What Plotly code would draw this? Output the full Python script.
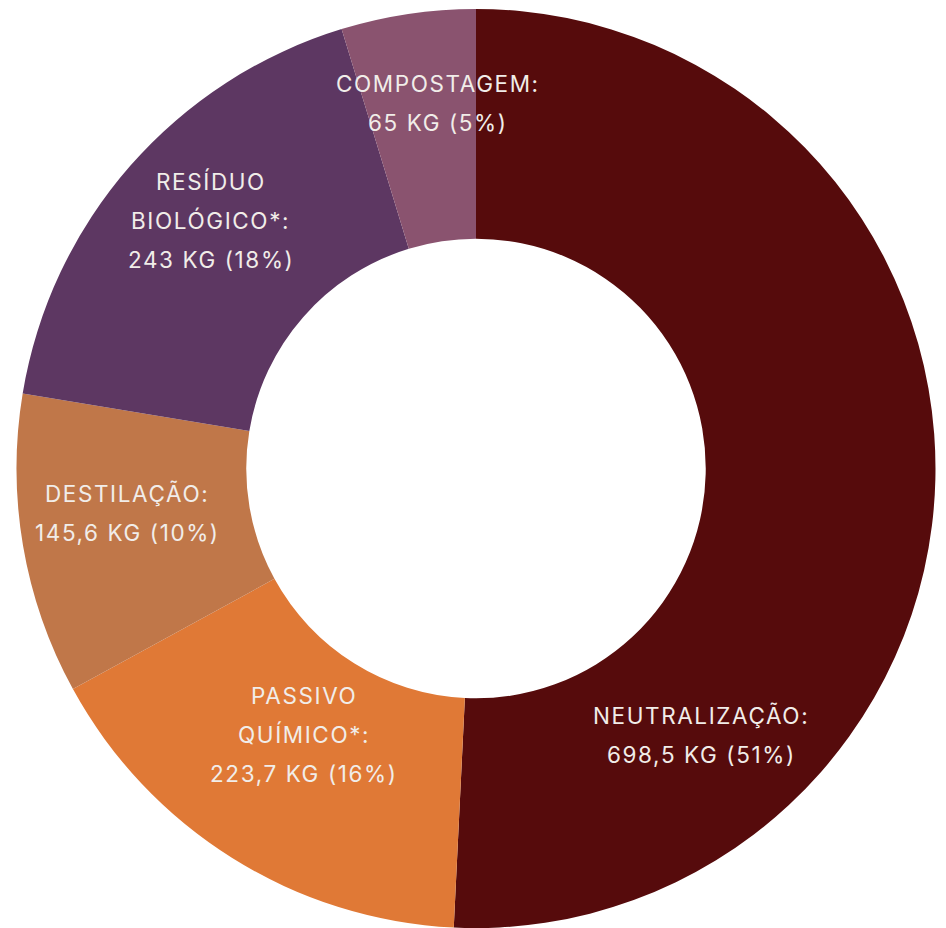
import math
import plotly.graph_objects as go

# ---- data ----
categories = ["NEUTRALIZAÇÃO:", "PASSIVO QUÍMICO*:", "DESTILAÇÃO:", "RESÍDUO BIOLÓGICO*:", "COMPOSTAGEM:"]
label_lines = [
    ["NEUTRALIZAÇÃO:"],
    ["PASSIVO", "QUÍMICO*:"],
    ["DESTILAÇÃO:"],
    ["RESÍDUO", "BIOLÓGICO*:"],
    ["COMPOSTAGEM:"],
]
values_kg = [698.5, 223.7, 145.6, 243, 65]
value_text = ["698,5 KG", "223,7 KG", "145,6 KG", "243 KG", "65 KG"]
percent_text = ["51%", "16%", "10%", "18%", "5%"]

# ---- style ----
colors = ["#560b0c", "#e07936", "#c07749", "#5d3762", "#8a536f"]
text_color = "#f1ede9"
font_family = "Inter"
font_size = 22.5
letter_spacing = "1.6px"
line_gap = 39
# label placement: (angle offset from slice mid in degrees, radius fraction)
label_place = [(48.4, 0.76), (0.9, 0.69), (2.3, 0.765), (1.9, 0.79), (2.6, 0.80)]

# page body has an 8px margin; compensate so the chart fills the window
BODY = 8
W, H = 946 - BODY, 928 - BODY
ML, MR, MT, MB = 8, 10, 1, 0
pw, ph = W - ML - MR, H - MT - MB
R = min(pw, ph) / 2

fig = go.Figure(go.Pie(
    labels=categories,
    values=values_kg,
    hole=0.5,
    sort=False,
    direction="clockwise",
    rotation=0,
    textinfo="none",
    marker=dict(colors=colors, line=dict(width=0)),
    showlegend=False,
))

total = sum(values_kg)
cum = 0.0
annotations = []
for i, v in enumerate(values_kg):
    mid = (cum + v / 2) / total * 360.0
    cum += v
    off, rf = label_place[i]
    ang = math.radians(mid + off)
    dx = math.sin(ang) * R * rf
    dy = -math.cos(ang) * R * rf  # pixels, downward positive
    lines = label_lines[i] + [f"{value_text[i]} ({percent_text[i]})"]
    n = len(lines)
    for j, t in enumerate(lines):
        yoff = (j - (n - 1) / 2) * line_gap
        annotations.append(dict(
            x=0.5 + dx / pw, y=0.5 - (dy + yoff) / ph,
            xref="paper", yref="paper",
            text=f"<span style='letter-spacing:{letter_spacing}'>{t}</span>",
            showarrow=False,
            xanchor="center", yanchor="middle",
            font=dict(family=font_family, size=font_size, color=text_color),
        ))

fig.update_layout(
    width=W, height=H,
    margin=dict(l=ML, r=MR, t=MT, b=MB),
    paper_bgcolor="white", plot_bgcolor="white",
    annotations=annotations,
)
fig.write_html("out.html")
